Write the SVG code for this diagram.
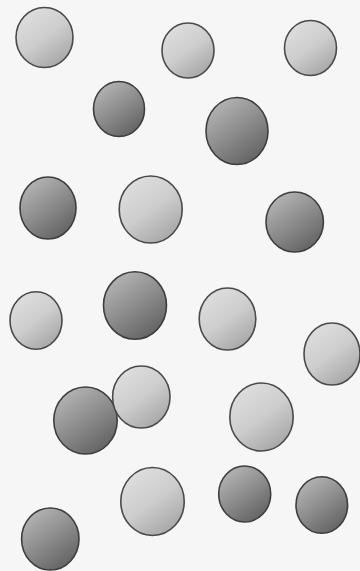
<svg xmlns="http://www.w3.org/2000/svg" width="360" height="571" viewBox="0 0 360 571">
<defs>
<linearGradient id="light" x1="0.2" y1="0.05" x2="0.8" y2="0.95">
<stop offset="0" stop-color="#dedede"/>
<stop offset="0.5" stop-color="#cdcdcd"/>
<stop offset="1" stop-color="#a6a6a6"/>
</linearGradient>
<linearGradient id="dark" x1="0.2" y1="0.05" x2="0.8" y2="0.95">
<stop offset="0" stop-color="#b4b4b4"/>
<stop offset="0.5" stop-color="#8c8c8c"/>
<stop offset="1" stop-color="#626262"/>
</linearGradient>
</defs>
<style>
.l{fill:url(#light);stroke:#4a4a4a;stroke-width:1.6}
.d{fill:url(#dark);stroke:#3e3e3e;stroke-width:1.6}
</style>
<rect width="360" height="571" fill="#f6f6f6"/>
<g id="balls">
<ellipse class="l" cx="44.5" cy="37.5" rx="28.5" ry="30"/>
<ellipse class="l" cx="188" cy="50.5" rx="26" ry="27.5"/>
<ellipse class="l" cx="310.5" cy="48" rx="26" ry="27.5"/>
<ellipse class="d" cx="119" cy="109" rx="25.5" ry="27.5"/>
<ellipse class="d" cx="237" cy="131" rx="31" ry="33.5"/>
<ellipse class="d" cx="48" cy="208" rx="28" ry="31"/>
<ellipse class="l" cx="150.7" cy="209.5" rx="31.5" ry="33.5"/>
<ellipse class="d" cx="294.7" cy="222" rx="28.7" ry="30"/>
<ellipse class="l" cx="36" cy="320.5" rx="26" ry="28.7"/>
<ellipse class="d" cx="135" cy="305.5" rx="31.5" ry="33.7"/>
<ellipse class="l" cx="227.5" cy="319" rx="28.3" ry="31"/>
<ellipse class="l" cx="332" cy="354" rx="28" ry="31"/>
<ellipse class="d" cx="85.5" cy="420.5" rx="31.7" ry="33.5"/>
<ellipse class="l" cx="141.3" cy="397" rx="28.7" ry="31"/>
<ellipse class="l" cx="261.5" cy="417" rx="31.7" ry="34"/>
<ellipse class="l" cx="152.5" cy="501.5" rx="31.7" ry="34"/>
<ellipse class="d" cx="244.7" cy="494" rx="26" ry="28"/>
<ellipse class="d" cx="321.8" cy="505" rx="25.8" ry="28.3"/>
<ellipse class="d" cx="50.3" cy="539" rx="28.7" ry="31"/>
</g>
</svg>
